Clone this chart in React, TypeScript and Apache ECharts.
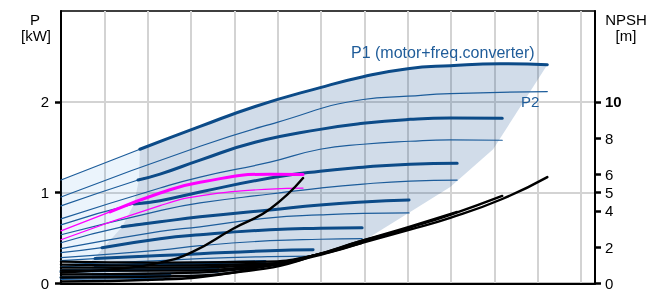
import React, { useEffect, useRef } from "react";
import * as echarts from "echarts";

const FONT = '"Liberation Sans", Arial, Helvetica, sans-serif';

// Axis ticks
const pTicks = [0, 1, 2];
const npshTicks = [0, 2, 4, 5, 6, 8, 10];

// Power curves [flow, P kW] per speed: P1 (motor+freq.converter) and P2
const s1P1 = [[0, 1.139], [1.82, 1.478], [3.21, 1.729], [4.48, 1.949], [5.98, 2.157], [6.97, 2.277], [8.0, 2.365], [8.98, 2.398], [10.13, 2.42], [11.22, 2.409]];
const s1P2 = [[0, 0.953], [3.21, 1.511], [4.985, 1.774], [6.97, 2.026], [8.0, 2.062], [8.98, 2.091], [11.22, 2.113]];
const s2P1 = [[0, 0.854], [1.777, 1.139], [2.285, 1.204], [3.208, 1.358], [4.477, 1.555], [5.977, 1.697], [6.97, 1.763], [8.055, 1.807], [8.98, 1.823], [10.18, 1.818]];
const s2P2 = [[0, 0.712], [2.285, 1.051], [3.208, 1.172], [4.823, 1.336], [5.977, 1.478], [6.97, 1.533], [8.055, 1.566], [8.98, 1.582], [10.18, 1.577]];
const s3P1 = [[0, 0.646], [1.685, 0.876], [2.285, 0.912], [3.208, 1.007], [4.823, 1.161], [5.977, 1.237], [6.97, 1.281], [8.055, 1.314], [9.14, 1.325]];
const s3P2 = [[0, 0.537], [2.285, 0.803], [3.208, 0.887], [4.823, 0.985], [5.977, 1.051], [6.97, 1.095], [8.055, 1.128], [9.14, 1.139]];
const s4P1 = [[0, 0.449], [1.41, 0.624], [2.285, 0.679], [3.208, 0.734], [4.823, 0.81], [5.977, 0.865], [6.97, 0.898], [8.03, 0.92]];
const s4P2 = [[0, 0.383], [2.285, 0.573], [3.208, 0.624], [4.823, 0.723], [5.977, 0.755], [6.97, 0.772], [8.03, 0.777]];
const s5P1 = [[0, 0.339], [0.946, 0.394], [2.285, 0.493], [3.208, 0.537], [4.823, 0.591], [5.977, 0.608], [6.947, 0.613]];
const s5P2 = [[0, 0.285], [2.285, 0.367], [3.208, 0.416], [4.823, 0.471], [5.977, 0.487], [6.947, 0.493]];
const s6P1 = [[0, 0.252], [0.785, 0.274], [2.285, 0.307], [3.208, 0.328], [4.823, 0.361], [5.816, 0.372]];
const s6P2 = [[0, 0.208], [2.285, 0.252], [3.208, 0.274], [4.823, 0.296], [5.816, 0.301]];
const s7P1 = [[0, 0.186], [0.785, 0.197], [2.285, 0.214], [3.67, 0.23], [4.708, 0.241]];
const s7P2 = [[0, 0.153], [2.285, 0.175], [3.67, 0.186], [4.708, 0.192]];
const s8P1 = [[0, 0.131], [2.285, 0.153], [3.623, 0.164]];
const s8P2 = [[0, 0.099], [2.285, 0.115], [3.623, 0.126]];
const s9P1 = [[0, 0.066], [2.515, 0.088]];
const s9P2 = [[0, 0.044], [2.515, 0.06]];

// Duty curve (magenta)
const dutyP1 = [[0, 0.58], [1.131, 0.788], [2.285, 0.996], [3.208, 1.114], [4.823, 1.204], [5.585, 1.199]];
const dutyP2 = [[0, 0.482], [2.285, 0.857], [3.208, 0.964], [4.823, 1.04], [5.585, 1.051]];

// NPSH curves [flow, m]
const npsh1 = [[0, 1.204], [2.285, 1.149], [4.708, 1.204], [5.816, 1.533], [6.947, 2.244], [8.03, 2.956], [8.98, 3.612], [10.18, 4.652], [11.22, 5.857]];
const npsh2 = [[0, 1.04], [2.285, 0.985], [4.708, 1.095], [5.816, 1.533], [6.947, 2.299], [8.03, 3.065], [8.98, 3.777], [10.18, 4.817]];
const npsh3 = [[0, 0.876], [2.285, 0.876], [4.708, 1.04], [5.816, 1.533], [6.947, 2.354], [8.03, 3.12], [9.14, 3.941]];
const npsh4 = [[0, 0.712], [2.285, 0.712], [4.708, 0.985], [5.816, 1.533], [6.947, 2.354], [8.03, 3.01]];
const npsh5 = [[0, 0.493], [2.285, 0.547], [4.708, 0.93], [5.816, 1.478], [6.947, 2.244]];
const npsh6 = [[0, 0.328], [2.285, 0.383], [4.708, 0.821], [5.816, 1.533]];
const npsh7 = [[0, 0.109], [2.285, 0.219], [3.67, 0.493], [4.708, 0.985]];
const npshDuty = [[0, 0.602], [1.362, 0.821], [2.285, 1.149], [3.046, 1.751], [3.97, 3.01], [4.823, 4.105], [5.585, 5.802]];

// Operating range boundaries [flow, kW]
const rangeRight = [[9.97, 1.478], [8.98, 1.062], [8.055, 0.788], [7.247, 0.548], [6.947, 0.46]];
const rangeBottom = [[5.816, 0.296], [4.708, 0.175], [3.67, 0.099], [2.746, 0.055], [1.59, 0.022], [0.715, 0.022]];
const rangeLeft = [[0.715, 0.252], [0.9, 0.35], [1.41, 0.624], [1.685, 0.876], [1.8, 1.15]];
const extCorner = [[0, 0.252]];

const p1Curves = [s1P1, s2P1, s3P1, s4P1, s5P1, s6P1, s7P1, s8P1, s9P1];
const p2Curves = [s1P2, s2P2, s3P2, s4P2, s5P2, s6P2, s7P2, s8P2, s9P2];
const thickFrom = [1, 1, 1, 1, 1, 1, 1, 0, 0];
const npshCurves = [npsh1, npsh2, npsh3, npsh4, npsh5, npsh6, npsh7];

const BLUE = "#0c4b88";
const BLUE_THIN = "#1d5d9b";
const MAGENTA = "#ff00ff";

function lineSeries(data: number[][], color: string, width: number, yAxisIndex = 0, z = 3) {
  return {
    type: "line",
    data,
    xAxisIndex: 0,
    yAxisIndex,
    symbol: "none",
    showSymbol: false,
    smooth: 0.5,
    silent: true,
    z,
    lineStyle: { color, width, cap: "round" },
    emphasis: { disabled: true },
  };
}

function polySeries(points: number[][], fill: string, z: number) {
  return {
    type: "custom",
    xAxisIndex: 0,
    yAxisIndex: 0,
    silent: true,
    z,
    data: [[0, 0]],
    renderItem: (_p: any, api: any) => ({
      type: "polygon",
      shape: { points: points.map((pt) => api.coord(pt)) },
      style: { fill },
    }),
  };
}

export default function App() {
  const ref = useRef<HTMLDivElement>(null);
  useEffect(() => {
    const chart = echarts.init(ref.current!, null, { renderer: "svg" });

    const darkPoly = [...s1P1.slice(1), ...rangeRight, ...rangeBottom, ...rangeLeft];
    const lightPoly = [...s1P1.slice(0, 2), ...rangeLeft.slice().reverse(), ...extCorner];

    const series: any[] = [
      polySeries(lightPoly, "rgba(60,150,230,0.1)", 1),
      polySeries(darkPoly, "rgba(10,70,140,0.19)", 1),
    ];
    p2Curves.forEach((c) => series.push(lineSeries(c, BLUE_THIN, 1.2, 0, 3)));
    p1Curves.forEach((c, i) => {
      series.push(lineSeries(c, BLUE_THIN, 1.2, 0, 3));
      series.push(lineSeries(c.slice(thickFrom[i]), BLUE, 3, 0, 4));
    });
    series.push(lineSeries(dutyP2, MAGENTA, 1.2, 0, 5));
    series.push(lineSeries(dutyP1, MAGENTA, 1.3, 0, 5));
    series.push(lineSeries(dutyP1.slice(1), MAGENTA, 3, 0, 5));
    npshCurves.forEach((c) => series.push(lineSeries(c, "#000", 2.4, 1, 6)));
    series.push(lineSeries(npshDuty, "#000", 2.4, 1, 6));

    const labelStyle = { color: "#000", fontSize: 15, fontFamily: FONT };

    const option: any = {
      animation: false,
      grid: { left: 61, right: 65, top: 11, bottom: 6, show: true, borderColor: "#000", borderWidth: 1.5, backgroundColor: "transparent" },
      xAxis: {
        type: "value",
        min: 0,
        max: 12.32,
        interval: 1,
        axisLine: { show: true, onZero: false, lineStyle: { color: "#000", width: 2 } },
        axisTick: { show: false },
        axisLabel: { show: false },
        splitLine: { show: true, lineStyle: { color: "#d3d3d3", width: 2 } },
      },
      yAxis: [
        {
          type: "value",
          min: 0,
          max: 3,
          interval: 1,
          position: "left",
          axisLine: { show: true, lineStyle: { color: "#000", width: 2 } },
          axisTick: { show: true, length: 6, lineStyle: { color: "#000", width: 2.5 }, customValues: pTicks },
          axisLabel: { ...labelStyle, margin: 12, customValues: pTicks, formatter: (v: number) => (pTicks.includes(v) ? String(v) : "") },
          splitLine: { show: true, lineStyle: { color: "#d3d3d3", width: 2 } },
        },
        {
          type: "value",
          min: 0,
          max: 15,
          interval: 1,
          position: "right",
          axisLine: { show: true, lineStyle: { color: "#000", width: 2 } },
          axisTick: { show: true, length: 6, lineStyle: { color: "#000", width: 2.5 }, customValues: npshTicks },
          axisLabel: {
            ...labelStyle,
            margin: 10,
            customValues: npshTicks,
            formatter: (v: number) => (npshTicks.includes(v) ? (v === 10 ? "{b|10}" : String(v)) : ""),
            rich: { b: { ...labelStyle, fontWeight: "bold" } },
          },
          splitLine: { show: false },
        },
      ],
      graphic: [
        { type: "text", z: 100, left: 351, top: 44, style: { text: "P1 (motor+freq.converter)", fill: "#1f5c99", font: `16px ${FONT}` } },
        { type: "text", z: 100, left: 521, top: 94, style: { text: "P2", fill: "#1f5c99", font: `15px ${FONT}` } },
        { type: "text", z: 100, x: 35, y: 19, style: { text: "P", fill: "#000", font: `15px ${FONT}`, textAlign: "center", textVerticalAlign: "middle" } },
        { type: "text", z: 100, x: 36, y: 35, style: { text: "[kW]", fill: "#000", font: `15px ${FONT}`, textAlign: "center", textVerticalAlign: "middle" } },
        { type: "text", z: 100, x: 626, y: 19, style: { text: "NPSH", fill: "#000", font: `15px ${FONT}`, textAlign: "center", textVerticalAlign: "middle" } },
        { type: "text", z: 100, x: 626, y: 35, style: { text: "[m]", fill: "#000", font: `15px ${FONT}`, textAlign: "center", textVerticalAlign: "middle" } },
      ],
      series,
    };
    chart.setOption(option);
    return () => chart.dispose();
  }, []);
  return <div ref={ref} style={{ position: "fixed", left: 0, top: 0, width: 660, height: 291 }} />;
}
